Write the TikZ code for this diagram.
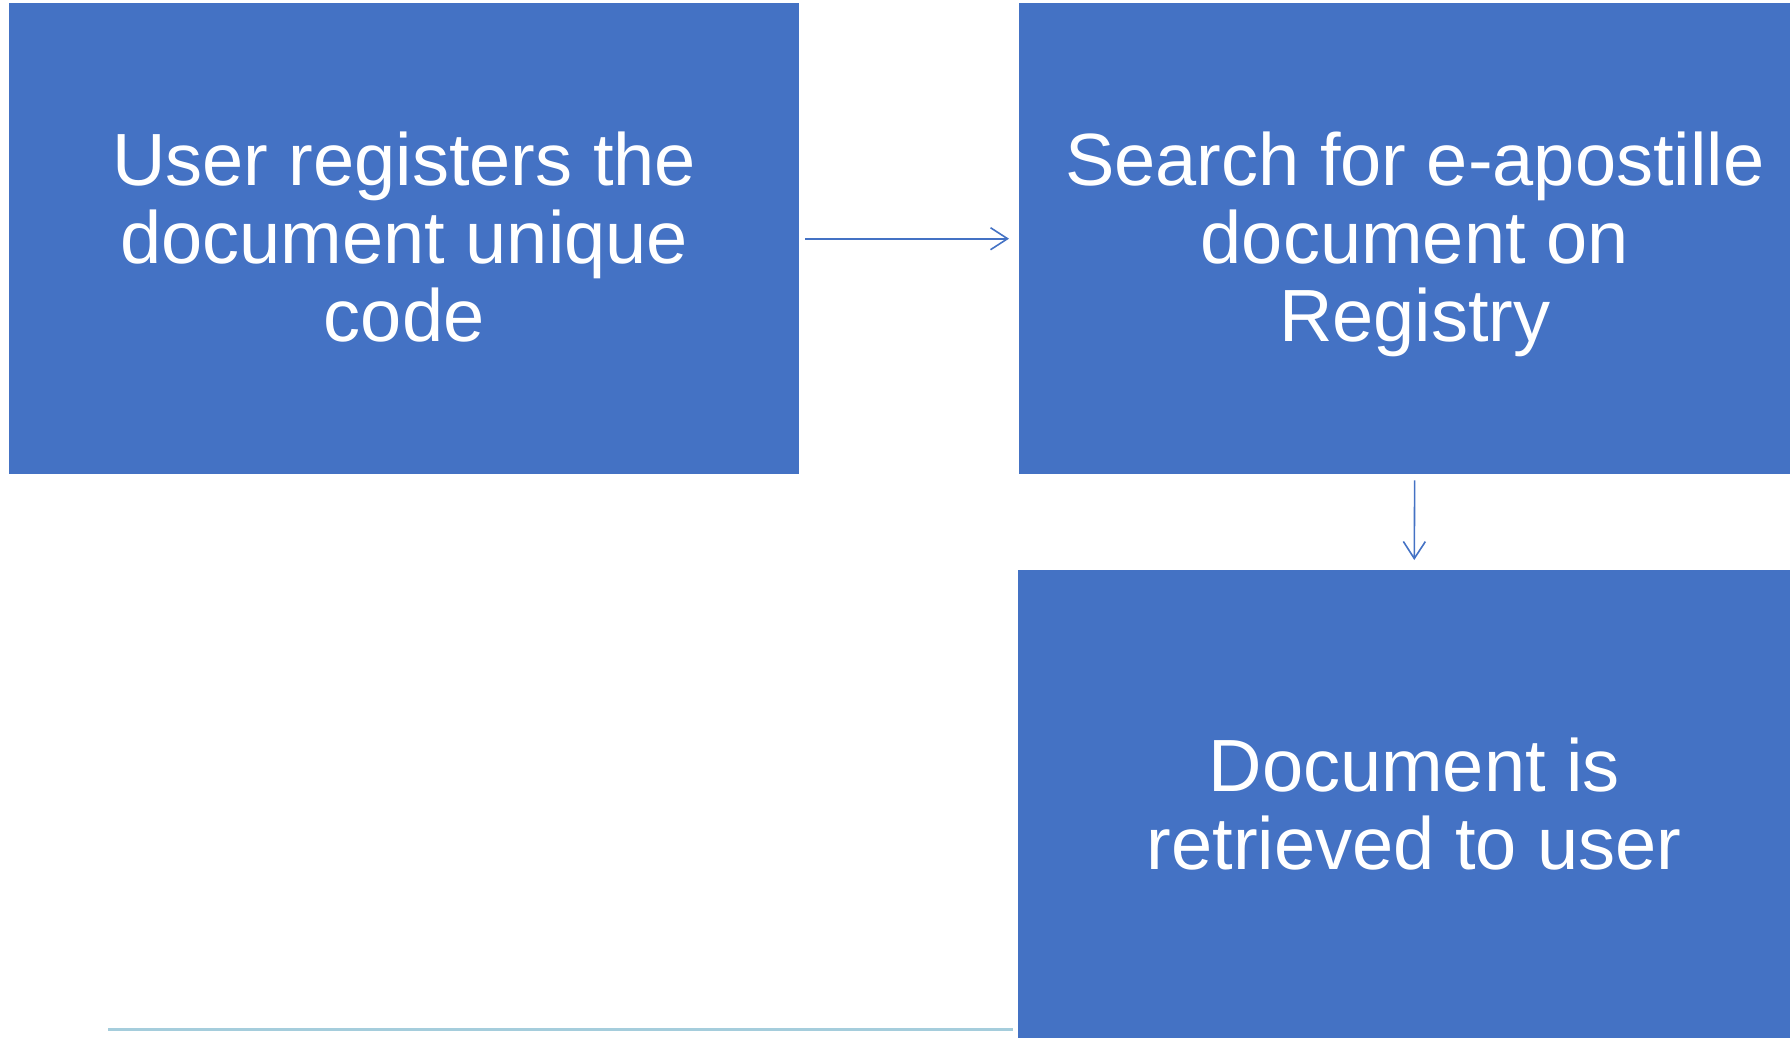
\documentclass[tikz,border=0pt]{standalone}
\usepackage{fontspec}
\setmainfont{Liberation Sans}
\usetikzlibrary{arrows.meta}
\definecolor{boxblue}{HTML}{4472C4}
\definecolor{lineblue}{HTML}{A5CDDC}
\newcommand{\topstrut}{\rule{0pt}{73pt}}
\begin{document}
\begin{tikzpicture}[x=1pt,y=-1pt,
  stepbox/.style={fill=boxblue, draw=none, text=white, align=center,
    minimum width=#1, minimum height=471pt, inner sep=0pt,
    font=\fontsize{74}{78}\selectfont},
  arr/.style={draw=boxblue, line width=1.6pt,
    -{Straight Barb[length=17pt,width=22pt,line width=1.6pt]}}]
\useasboundingbox (0,0) rectangle (1790,1037);
\clip (0,0) rectangle (1790,1037);
\node[stepbox=790pt, anchor=north west] (b1) at (9,3) {\topstrut User registers the\\document unique\\code\strut};
\node[stepbox=791pt, anchor=north west] (b2) at (1019,3) {\topstrut Search for e-apostille\\document on\\Registry\strut};
\node[stepbox=792pt, anchor=north west] (b3) at (1018,570) {\topstrut Document is\\retrieved to user\strut};
\draw[arr, shorten <=6pt, shorten >=10pt] (b1.east) -- (b2.west);
\draw[arr, shorten <=6pt, shorten >=10pt] (b2.south) -- (b3.north);
\coordinate (l1) at (108,1029);
\coordinate (l2) at (1013,1029);
\draw[lineblue, line width=3pt] (l1) -- (l2);
\end{tikzpicture}
\end{document}
